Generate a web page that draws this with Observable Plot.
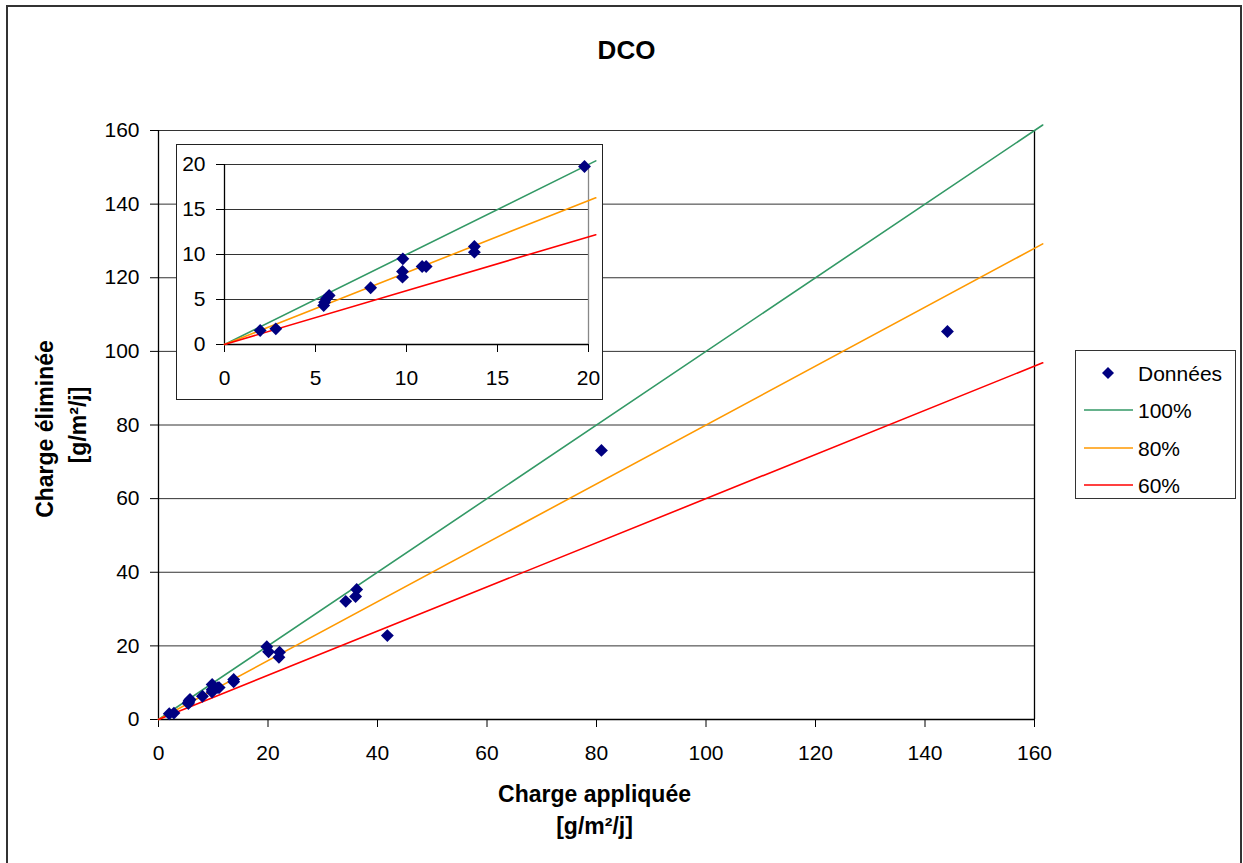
<!DOCTYPE html>
<html>
<head>
<meta charset="utf-8">
<script src="https://cdn.jsdelivr.net/npm/d3@7"></script>
<script src="https://cdn.jsdelivr.net/npm/@observablehq/plot@0.6"></script>
<style>
  body { margin: 0; background: #fff; font-family: "Liberation Sans", Arial, sans-serif; }
  #wrap { position: relative; width: 1243px; height: 863px; overflow: hidden; background: #fff; }
  #frameBorder { position: absolute; left: 6px; top: 5px; width: 1236px; height: 900px; border: 2px solid #333; box-sizing: border-box; pointer-events: none; }
  #legend { position: absolute; left: 1075px; top: 350px; width: 161px; height: 149px; border: 1.5px solid #333; box-sizing: border-box; background: #fff; }
  .item { position: absolute; left: 0; height: 30px; width: 160px; font-size: 21px; color: #000; }
  .item svg { position: absolute; left: 0; top: 0; }
  .item span { position: absolute; left: 62px; top: 2px; line-height: 24px; }
</style>
</head>
<body>
<div id="wrap">
  <div id="frameBorder"></div>
</div>
<script>
// ---------- Data ----------
const chargeAppliquee = [1.96, 2.82, 5.45, 5.5, 5.6, 5.75, 8.03, 9.8, 9.78, 9.78, 10.86, 11.08, 13.73, 13.73, 19.78, 20.1, 22.1, 22.0, 34.2, 36.0, 36.2, 41.8, 80.9, 144.1];
const chargeEliminee  = [1.56, 1.74, 4.33, 4.7, 5.1, 5.44, 6.3, 9.52, 8.11, 7.48, 8.67, 8.67, 10.89, 10.26, 19.78, 18.4, 18.3, 16.9, 32.1, 33.4, 35.3, 22.8, 73.1, 105.4];

const refLabels = ["100%", "80%", "60%"];
const refColors = ["#339966", "#FF9900", "#FF0000"];
// reference line endpoints (main chart)
const mainRefX = [0, 161.5];
const mainRefY = [[0, 161.5], [0, 129.2], [0, 96.9]];
// reference line endpoints (inset)
const insetRefX = [0, 20.4];
const insetRefY = [[0, 20.4], [0, 16.3], [0, 12.2]];

const mainTicks = [0, 20, 40, 60, 80, 100, 120, 140, 160];
const insetTicks = [0, 5, 10, 15, 20];

const title = "DCO";
const xTitle = ["Charge appliquée", "[g/m²/j]"];
const yTitle = ["Charge éliminée", "[g/m²/j]"];
const legendData = "Données";

// ---------- Build tables ----------
const points = chargeAppliquee.map((x, i) => ({x, y: chargeEliminee[i]}));
const refRows = (xs, ys) => refLabels.map((lab, k) => xs.map((x, j) => ({x, y: ys[k][j], serie: lab})));
const mainRef = refRows(mainRefX, mainRefY);
const insetRef = refRows(insetRefX, insetRefY);

const FONT = '"Liberation Sans", Arial, sans-serif';
const navy = "#000080";
const boldText = {fontSize: 23, fontWeight: "bold", fill: "#000", textAnchor: "middle", lineAnchor: "middle"};

// ---------- Main chart ----------
const main = Plot.plot({
  width: 1243, height: 863,
  marginLeft: 158, marginRight: 209, marginTop: 130, marginBottom: 144,
  x: {domain: [0, 160]},
  y: {domain: [0, 160]},
  style: {fontFamily: FONT, fontSize: "21px", color: "#000", background: "transparent", overflow: "visible"},
  marks: [
    Plot.gridY(mainTicks.filter(d => d > 0), {stroke: "#333", strokeOpacity: 1, strokeWidth: 1}),
    Plot.ruleX([0, 160], {stroke: "#000", strokeWidth: 1.3}),
    Plot.ruleY([0], {stroke: "#000", strokeWidth: 1.3}),
    Plot.axisX(mainTicks, {tickSize: 8, tickPadding: 18, label: null, fontSize: 21}),
    Plot.axisY(mainTicks, {tickSize: 8, tickPadding: 11, label: null, fontSize: 21}),
    ...mainRef.map((rows, k) => Plot.line(rows, {x: "x", y: "y", stroke: refColors[k], strokeWidth: 1.6})),
    Plot.dot(points, {x: "x", y: "y", symbol: "diamond2", r: 5.8, fill: navy, stroke: "none"}),
    Plot.text([title], {frameAnchor: "top", dy: -80, dx: 30, fontSize: 26, fontWeight: "bold", fill: "#000", textAnchor: "middle", lineAnchor: "middle"}),
    Plot.text([xTitle[0]], {frameAnchor: "bottom", dy: 75, dx: -2, ...boldText}),
    Plot.text([xTitle[1]], {frameAnchor: "bottom", dy: 107, dx: -2, ...boldText}),
    Plot.text([yTitle[0]], {frameAnchor: "left", dx: -113, dy: 4, rotate: -90, ...boldText}),
    Plot.text([yTitle[1]], {frameAnchor: "left", dx: -80, dy: 0, rotate: -90, ...boldText})
  ]
});
main.style.position = "absolute";
main.style.left = "0px";
main.style.top = "0px";
document.getElementById("wrap").appendChild(main);

// ---------- Inset ----------
const insetPts = points.filter(d => d.x <= 20 && d.y <= 20);
const inset = Plot.plot({
  width: 425, height: 254,
  marginLeft: 47, marginRight: 14, marginTop: 19, marginBottom: 55,
  x: {domain: [0, 20]},
  y: {domain: [0, 20]},
  style: {fontFamily: FONT, fontSize: "21px", color: "#000", background: "#fff", overflow: "visible"},
  marks: [
    Plot.gridY(insetTicks.filter(d => d > 0), {stroke: "#333", strokeOpacity: 1, strokeWidth: 1}),
    Plot.ruleX([20], {stroke: "#888", strokeWidth: 1.3}),
    Plot.ruleX([0], {stroke: "#000", strokeWidth: 1.3}),
    Plot.ruleY([0], {stroke: "#000", strokeWidth: 1.3}),
    Plot.axisX(insetTicks, {tickSize: 8, tickPadding: 18, label: null, fontSize: 21}),
    Plot.axisY(insetTicks, {tickSize: 8, tickPadding: 11, label: null, fontSize: 21}),
    ...insetRef.map((rows, k) => Plot.line(rows, {x: "x", y: "y", stroke: refColors[k], strokeWidth: 1.6})),
    Plot.dot(insetPts, {x: "x", y: "y", symbol: "diamond2", r: 5.8, fill: navy, stroke: "none"})
  ]
});
inset.style.position = "absolute";
inset.style.left = "177px";
inset.style.top = "145px";
inset.style.outline = "1.5px solid #222";
document.getElementById("wrap").appendChild(inset);

// ---------- Legend ----------
const legend = document.createElement("div");
legend.id = "legend";
const items = [{label: legendData, type: "dot"}].concat(refLabels.map((l, k) => ({label: l, type: "line", color: refColors[k]})));
const itemTops = [9, 46, 84, 121];
items.forEach((it, i) => {
  const div = document.createElement("div");
  div.className = "item";
  div.style.top = itemTops[i] + "px";
  let sw;
  if (it.type === "dot") {
    sw = `<svg width="60" height="30"><path d="M32,7 L38,13 L32,19 L26,13 Z" fill="${navy}"/></svg>`;
  } else {
    sw = `<svg width="60" height="30"><line x1="8" x2="57" y1="13" y2="13" stroke="${it.color}" stroke-width="1.6"/></svg>`;
  }
  div.innerHTML = sw + `<span>${it.label}</span>`;
  legend.appendChild(div);
});
document.getElementById("wrap").appendChild(legend);
</script>
</body>
</html>
